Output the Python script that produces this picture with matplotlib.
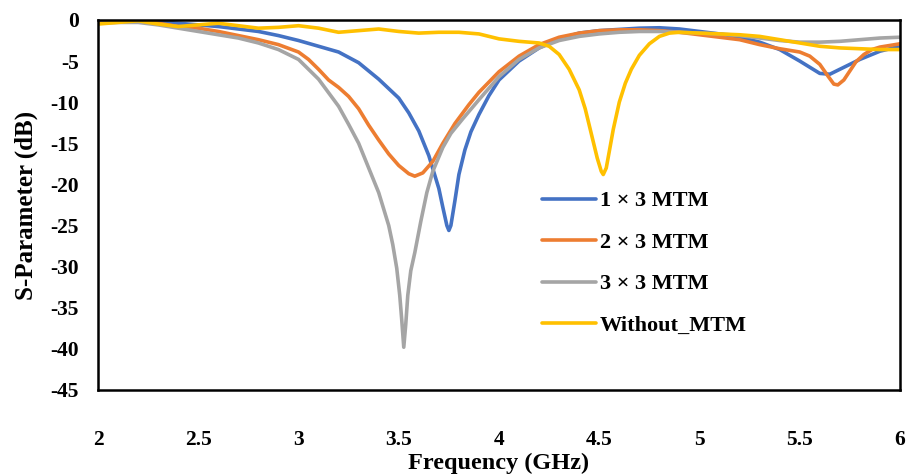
import matplotlib
matplotlib.use("Agg")
import matplotlib.pyplot as plt

plt.rcParams['font.family'] = ['Liberation Serif', 'DejaVu Serif']
plt.rcParams['font.weight'] = 'bold'
plt.rcParams['axes.unicode_minus'] = False

# 1 x 3 MTM
f_1x3 = [2.0, 2.1, 2.2, 2.3, 2.4, 2.5, 2.6, 2.7, 2.8, 2.9, 3.0, 3.1, 3.2, 3.3, 3.4,
         3.5, 3.55, 3.6, 3.65, 3.7, 3.72, 3.74, 3.75, 3.76, 3.78, 3.8, 3.83, 3.86,
         3.9, 3.95, 4.0, 4.1, 4.2, 4.3, 4.4, 4.5, 4.6, 4.7, 4.8, 4.9, 5.0, 5.1, 5.2,
         5.3, 5.4, 5.5, 5.6, 5.65, 5.7, 5.8, 5.9, 6.0]
s_1x3 = [-0.3, -0.1, 0.0, -0.2, -0.4, -0.6, -0.8, -1.1, -1.4, -1.9, -2.5, -3.2, -3.9,
         -5.2, -7.2, -9.5, -11.3, -13.5, -16.5, -20.5, -22.8, -25.0, -25.6, -25.0,
         -22.0, -18.8, -15.8, -13.6, -11.5, -9.2, -7.3, -5.0, -3.4, -2.3, -1.6, -1.3,
         -1.15, -1.0, -0.95, -1.1, -1.4, -1.7, -2.1, -2.7, -3.6, -5.0, -6.5, -6.6,
         -6.0, -4.8, -3.8, -3.2]

# 2 x 3 MTM
f_2x3 = [2.0, 2.1, 2.2, 2.3, 2.4, 2.5, 2.6, 2.7, 2.8, 2.9, 3.0, 3.05, 3.1, 3.15, 3.2,
         3.25, 3.3, 3.35, 3.4, 3.45, 3.5, 3.55, 3.58, 3.62, 3.67, 3.72, 3.78, 3.85,
         3.9, 4.0, 4.1, 4.2, 4.3, 4.4, 4.5, 4.6, 4.7, 4.8, 4.9, 5.0, 5.1, 5.2, 5.3,
         5.4, 5.5, 5.55, 5.6, 5.64, 5.67, 5.69, 5.72, 5.75, 5.78, 5.82, 5.86, 5.9, 6.0]
s_2x3 = [-0.3, -0.1, -0.1, -0.4, -0.8, -1.0, -1.4, -1.9, -2.4, -3.0, -3.9, -4.8, -6.0,
         -7.3, -8.2, -9.3, -10.8, -12.8, -14.6, -16.3, -17.7, -18.7, -19.0, -18.6,
         -17.2, -15.0, -12.6, -10.3, -8.8, -6.3, -4.4, -3.0, -2.1, -1.6, -1.3, -1.2,
         -1.2, -1.3, -1.5, -1.8, -2.1, -2.4, -3.0, -3.5, -3.9, -4.4, -5.4, -6.8,
         -7.8, -7.9, -7.3, -6.2, -5.1, -4.2, -3.6, -3.3, -2.9]

# 3 x 3 MTM
f_3x3 = [2.0, 2.1, 2.2, 2.3, 2.4, 2.5, 2.6, 2.7, 2.8, 2.9, 3.0, 3.1, 3.2, 3.25, 3.3,
         3.35, 3.4, 3.45, 3.47, 3.49, 3.505, 3.515, 3.525, 3.535, 3.545, 3.56, 3.58,
         3.61, 3.64, 3.67, 3.72, 3.76, 3.82, 3.9, 4.0, 4.1, 4.2, 4.3, 4.4, 4.5, 4.6,
         4.7, 4.8, 4.9, 5.0, 5.1, 5.2, 5.3, 5.4, 5.5, 5.6, 5.7, 5.8, 5.9, 6.0]
s_3x3 = [-0.4, -0.3, -0.3, -0.6, -1.0, -1.4, -1.8, -2.2, -2.8, -3.6, -4.8, -7.2, -10.5,
         -12.7, -15.0, -18.0, -21.0, -25.0, -27.3, -30.2, -33.5, -36.5, -39.8, -37.0,
         -33.5, -30.5, -28.3, -24.5, -21.0, -18.4, -15.5, -13.8, -12.0, -9.7, -6.9,
         -4.8, -3.4, -2.5, -2.0, -1.7, -1.5, -1.4, -1.4, -1.5, -1.6, -1.7, -1.9, -2.2,
         -2.5, -2.7, -2.7, -2.6, -2.4, -2.2, -2.1]

# Without MTM
f_none = [2.0, 2.1, 2.2, 2.3, 2.4, 2.5, 2.6, 2.7, 2.8, 2.9, 3.0, 3.1, 3.2, 3.3, 3.4,
          3.5, 3.6, 3.7, 3.8, 3.9, 4.0, 4.1, 4.2, 4.25, 4.3, 4.35, 4.4, 4.43, 4.46,
          4.49, 4.51, 4.52, 4.535, 4.55, 4.57, 4.6, 4.63, 4.66, 4.7, 4.75, 4.8, 4.85,
          4.9, 5.0, 5.1, 5.2, 5.3, 5.4, 5.5, 5.6, 5.7, 5.8, 5.9, 6.0]
s_none = [-0.5, -0.3, -0.1, -0.5, -0.8, -0.6, -0.4, -0.7, -1.0, -0.9, -0.7, -1.0, -1.5,
          -1.3, -1.1, -1.4, -1.6, -1.5, -1.5, -1.7, -2.3, -2.6, -2.8, -3.2, -4.2, -6.0,
          -8.5, -10.8, -13.8, -16.8, -18.4, -18.8, -18.0, -16.0, -13.3, -10.0, -7.7,
          -6.0, -4.3, -2.9, -2.0, -1.6, -1.5, -1.6, -1.7, -1.8, -2.0, -2.4, -2.8, -3.2,
          -3.4, -3.5, -3.6, -3.6]

series = [
    (f_1x3, s_1x3, "1 × 3 MTM", "#4472C4"),
    (f_2x3, s_2x3, "2 × 3 MTM", "#ED7D31"),
    (f_3x3, s_3x3, "3 × 3 MTM", "#A5A5A5"),
    (f_none, s_none, "Without_MTM", "#FFC000"),
]

fig = plt.figure(figsize=(9.1, 4.75), dpi=100)
ax = fig.add_axes([0.1077, 0.179, 0.8813, 0.779])

for f, s, name, col in series:
    ax.plot(f, s, color=col, lw=2.6, label=name,
            solid_capstyle='round', solid_joinstyle='round')

ax.set_xlim(2, 6)
ax.set_ylim(-45, 0)
ax.set_xticks([2, 2.5, 3, 3.5, 4, 4.5, 5, 5.5, 6])
ax.set_xticklabels(["2", "2.5", "3", "3.5", "4", "4.5", "5", "5.5", "6"])
ax.set_yticks(range(-45, 1, 5))
ax.tick_params(axis='both', length=0, labelsize=15.5)
ax.tick_params(axis='x', pad=29)
ax.tick_params(axis='y', pad=14)
for sp in ax.spines.values():
    sp.set_linewidth(1.8)
    sp.set_color('black')

# axis titles placed in axes coordinates
ax.set_xlabel("Frequency (GHz)", fontsize=17.5, fontweight='bold', va='bottom')
ax.xaxis.set_label_coords(0.5, -0.227)
ax.set_ylabel("S-Parameter (dB)", fontsize=18, fontweight='bold', va='center')
ax.yaxis.set_label_coords(-0.09, 0.5)

ax.legend(loc='upper left', bbox_to_anchor=(0.529, 0.592), frameon=False,
          fontsize=16, handlelength=2.4, labelspacing=0.94, handletextpad=0.2)

fig.savefig("out.png", dpi=100)
